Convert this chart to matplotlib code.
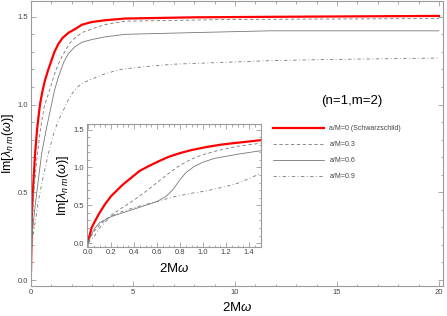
import matplotlib
matplotlib.use("Agg")
import matplotlib.pyplot as plt

plt.rcParams['font.family'] = ['Liberation Sans', 'DejaVu Sans']
plt.rcParams['mathtext.fontset'] = 'custom'
plt.rcParams['mathtext.rm'] = 'Liberation Sans'
plt.rcParams['mathtext.it'] = 'Liberation Sans:italic'

# main panel (x = 2M omega, y = Im[lambda])
x_a0 = [0, 0.05, 0.1, 0.2, 0.3, 0.44, 0.55, 0.69, 0.85, 1.0, 1.15, 1.34, 1.55, 1.85, 2.16,
        2.5, 2.97, 3.6, 4.6, 8, 12, 20]
y_a0 = [0.05, 0.40, 0.52, 0.72, 0.86, 1.0, 1.07, 1.14, 1.20, 1.25, 1.30, 1.345, 1.38, 1.41, 1.43,
        1.455, 1.47, 1.48, 1.49, 1.497, 1.50, 1.505]

x_a3 = [0, 0.07, 0.15, 0.28, 0.45, 0.65, 0.85, 1.01, 1.17, 1.34, 1.5, 1.7, 1.9, 2.16, 2.5,
        2.97, 3.6, 4.6, 10, 20]
y_a3 = [0.05, 0.36, 0.52, 0.68, 0.85, 0.99, 1.06, 1.12, 1.18, 1.23, 1.27, 1.31, 1.35, 1.38, 1.41,
        1.43, 1.455, 1.475, 1.485, 1.49]

x_a6 = [0, 0.03, 0.2, 0.52, 0.75, 0.95, 1.15, 1.34, 1.45, 1.6, 1.83, 2.16, 2.5, 2.97, 3.6,
        4.6, 8, 11.7, 20]
y_a6 = [0.05, 0.23, 0.42, 0.72, 0.86, 0.97, 1.08, 1.156, 1.19, 1.24, 1.29, 1.33, 1.355, 1.37, 1.385,
        1.40, 1.41, 1.42, 1.42]

x_a9 = [0, 0.05, 0.36, 0.6, 0.85, 1.1, 1.34, 1.6, 1.8, 2.0, 2.2, 2.48, 2.97, 3.5, 4.36,
        5.5, 7, 11.7, 14.2, 20]
y_a9 = [0.05, 0.21, 0.45, 0.59, 0.72, 0.83, 0.91, 0.97, 1.02, 1.06, 1.09, 1.12, 1.145, 1.17, 1.20,
        1.215, 1.23, 1.25, 1.256, 1.265]

# inset panel (zoom on small 2M omega)
xi_a0 = [0, 0.03, 0.06, 0.1, 0.15, 0.2, 0.3, 0.45, 0.53, 0.626, 0.7, 0.8, 0.9, 1.03, 1.15,
         1.26, 1.38, 1.5]
yi_a0 = [0.02, 0.2, 0.29, 0.40, 0.52, 0.62, 0.77, 0.956, 1.02, 1.09, 1.14, 1.19, 1.23, 1.27, 1.30,
         1.32, 1.34, 1.36]

xi_a3 = [0, 0.05, 0.1, 0.2, 0.3, 0.4, 0.5, 0.6, 0.7, 0.8, 0.9, 1.0, 1.12, 1.3, 1.5]
yi_a3 = [0.02, 0.15, 0.24, 0.37, 0.47, 0.57, 0.68, 0.80, 0.92, 1.03, 1.11, 1.17, 1.22, 1.28, 1.32]

xi_a6 = [0, 0.03, 0.06, 0.1, 0.2, 0.3, 0.4, 0.5, 0.6, 0.68, 0.74, 0.8, 0.85, 0.92, 1.0,
         1.1, 1.32, 1.5]
yi_a6 = [0.0, 0.12, 0.2, 0.27, 0.35, 0.40, 0.45, 0.50, 0.55, 0.62, 0.71, 0.84, 0.93, 1.01, 1.07,
         1.12, 1.18, 1.22]

xi_a9 = [0, 0.05, 0.1, 0.2, 0.3, 0.4, 0.5, 0.6, 0.74, 0.9, 1.03, 1.2, 1.32, 1.5]
yi_a9 = [0.0, 0.08, 0.20, 0.36, 0.42, 0.47, 0.51, 0.55, 0.61, 0.66, 0.69, 0.75, 0.80, 0.92]

labels = ['a/M=0 (Schwarzschild)', 'a/M=0.3', 'a/M=0.6', 'a/M=0.9']

frame_col = '#9a9a9a'
text_col = '#444444'
gray = '#777777'


def style_axes(ax, xmaj, xmin, ymaj, ymin):
    for s in ax.spines.values():
        s.set_color(frame_col)
        s.set_linewidth(0.8)
    ax.xaxis.set_major_locator(plt.MultipleLocator(xmaj))
    ax.xaxis.set_minor_locator(plt.MultipleLocator(xmin))
    ax.yaxis.set_major_locator(plt.MultipleLocator(ymaj))
    ax.yaxis.set_minor_locator(plt.MultipleLocator(ymin))
    ax.tick_params(which='both', direction='in', top=True, right=True,
                   color=frame_col, width=0.6, labelsize=5.5, labelcolor=text_col, pad=2)
    ax.tick_params(which='major', length=3.5)
    ax.tick_params(which='minor', length=1.8)


def draw_curves(ax, xs, ys, with_labels=False):
    styles = [dict(color='#ff0000', lw=1.6),
              dict(color=gray, lw=0.6, dashes=(4, 3)),
              dict(color=gray, lw=0.6),
              dict(color=gray, lw=0.6, dashes=(4, 3, 1, 3))]
    for x, y, st, lab in zip(xs, ys, styles, labels):
        ax.plot(x, y, label=lab if with_labels else None, **st)


fig = plt.figure(figsize=(4.47, 3.16), dpi=100)

ax = fig.add_axes([31 / 447, 1 - 286 / 316, 412 / 447, 285 / 316])
draw_curves(ax, [x_a0, x_a3, x_a6, x_a9], [y_a0, y_a3, y_a6, y_a9], with_labels=True)
ax.set_xlim(0, 20.2)
ax.set_ylim(-0.034, 1.59)
style_axes(ax, 5, 1, 0.5, 0.1)
ax.xaxis.set_major_formatter(plt.FormatStrFormatter('%d'))
ax.yaxis.set_major_formatter(plt.FormatStrFormatter('%.1f'))
ax.set_xlabel(r'2M$\omega$', fontsize=9.5, labelpad=4)
ax.set_ylabel(r'Im[$\lambda_{n\ m}$($\omega$)]', fontsize=9)
ax.yaxis.set_label_coords(-0.036, 0.5)

ax.legend(loc='upper left', bbox_to_anchor=(273 / 447, 1 - 125 / 316),
          bbox_transform=fig.transFigure, frameon=False, fontsize=5,
          handlelength=7.3, handletextpad=0.8, labelspacing=1.3,
          borderpad=0, borderaxespad=0, labelcolor=text_col)

fig.text(352 / 447, 1 - 101 / 316, '(n=1,m=2)', fontsize=9.5, ha='center', va='center')

axi = fig.add_axes([87 / 447, 1 - 246.5 / 316, 174 / 447, 122.5 / 316])
draw_curves(axi, [xi_a0, xi_a3, xi_a6, xi_a9], [yi_a0, yi_a3, yi_a6, yi_a9])
axi.set_xlim(-0.009, 1.504)
axi.set_ylim(-0.044, 1.574)
style_axes(axi, 0.2, 0.05, 0.5, 0.1)
axi.xaxis.set_major_formatter(plt.FormatStrFormatter('%.1f'))
axi.yaxis.set_major_formatter(plt.FormatStrFormatter('%.1f'))
axi.set_xlabel(r'2M$\omega$', fontsize=9.5, labelpad=4)
axi.set_ylabel(r'Im[$\lambda_{n\ m}$($\omega$)]', fontsize=9)
axi.yaxis.set_label_coords(-0.09, 0.5)

fig.savefig('out.png', dpi=100)
